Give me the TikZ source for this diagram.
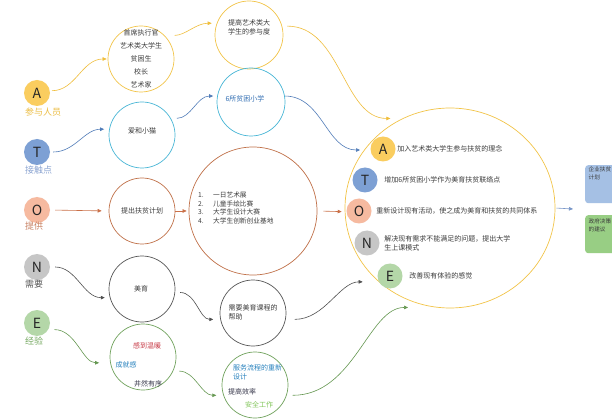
\documentclass[tikz,border=0pt]{standalone}
\usepackage{fontspec}
\setmainfont{Noto Sans CJK SC}
\usetikzlibrary{arrows.meta, positioning, shapes.geometric}

\definecolor{ink}{RGB}{60,60,60}
\definecolor{darkink}{RGB}{55,55,75}
\definecolor{ylwline}{RGB}{242,196,72}
\definecolor{cyanline}{RGB}{72,182,214}
\definecolor{orgline}{RGB}{192,112,72}
\definecolor{grayline}{RGB}{85,85,85}
\definecolor{grnline}{RGB}{112,162,92}
\definecolor{ylwarrow}{RGB}{240,190,60}
\definecolor{bluarrow}{RGB}{82,125,185}
\definecolor{orgarrow}{RGB}{202,112,72}
\definecolor{grayarrow}{RGB}{80,80,80}
\definecolor{grnarrow}{RGB}{102,152,82}
\definecolor{afill}{RGB}{250,205,95}
\definecolor{tfill}{RGB}{125,160,212}
\definecolor{ofill}{RGB}{246,186,160}
\definecolor{nfill}{RGB}{198,198,198}
\definecolor{efill}{RGB}{180,215,168}
\definecolor{alab}{RGB}{236,190,70}
\definecolor{tlab}{RGB}{140,165,210}
\definecolor{olab}{RGB}{200,130,100}
\definecolor{nlab}{RGB}{90,90,90}
\definecolor{elab}{RGB}{120,170,100}
\definecolor{bluetxt}{RGB}{52,112,180}
\definecolor{skytxt}{RGB}{40,130,190}
\definecolor{redtxt}{RGB}{200,60,72}
\definecolor{lgrntxt}{RGB}{130,198,90}
\definecolor{boxblue}{RGB}{165,192,228}
\definecolor{boxgreen}{RGB}{152,206,132}
\definecolor{outarrow}{RGB}{120,150,200}

\begin{document}
\begin{tikzpicture}[x=1pt, y=1pt,
    ring/.style={draw=#1, circle, line width=0.7pt, minimum size=66pt,
                 inner sep=0pt},
    letter/.style={circle, fill=#1, minimum size=26pt, inner sep=0pt,
                   font=\fontsize{14}{14}\selectfont, text=black!85},
    lab/.style={anchor=west, inner sep=0pt, font=\fontsize{9}{9}\selectfont},
    txt/.style={inner sep=0pt, text=ink, font=\fontsize{7}{9}\selectfont},
    flow/.style={draw=#1, line width=0.6pt,
                 -{Triangle[length=4pt, width=3.5pt]}},
    box/.style={rounded corners=3pt, minimum width=45pt, minimum height=38pt,
                anchor=north west, inner sep=0pt}
  ]
  \path[use as bounding box, fill=white] (0,0) rectangle (612,-419);

  \node[letter=afill] (A) at (37,-93) {A};
  \node[lab, text=alab] (Alab) at (25,-112) {参与人员};
  \node[letter=tfill] (T) at (37,-152) {T};
  \node[lab, text=tlab] (Tlab) at (25,-170) {接触点};
  \node[letter=ofill] (O) at (37,-210) {O};
  \node[lab, text=olab] (Olab) at (25,-226) {提供};
  \node[letter=nfill] (N) at (37,-267) {N};
  \node[lab, text=nlab] (Nlab) at (25,-284) {需要};
  \node[letter=efill] (E) at (37,-323) {E};
  \node[lab, text=elab] (Elab) at (25,-341) {经验};

  \node[ring=ylwline] (who) at (141,-59) {};
  \node[txt, align=center, font=\fontsize{7}{13}\selectfont] (whotxt) at (141,-59)
    {首席执行官\\艺术类大学生\\贫困生\\校长\\艺术家};
  \node[ring=ylwline, minimum size=68pt] (raise) at (249,-35) {};
  \node[txt, align=center] (raisetxt) at (249,-27) {提高艺术类大\\学生的参与度};

  \node[ring=cyanline] (love) at (142,-135) {};
  \node[txt] (lovetxt) at (142,-131) {爱和小猫};
  \node[ring=cyanline, minimum size=68pt] (schools) at (251,-102) {};
  \node[txt, text=bluetxt] (schoolstxt) at (245,-99) {6所贫困小学};

  \node[ring=orgline] (plan) at (142,-211) {};
  \node[txt] (plantxt) at (142,-211) {提出扶贫计划};
  \node[ring=orgline, minimum size=128pt] (acts) at (253,-211) {};
  \node[txt, align=left, anchor=west, font=\fontsize{6.7}{8.7}\selectfont]
    (actstxt) at (198,-208)
    {\makebox[15pt][l]{1.}一日艺术展\\\makebox[15pt][l]{2.}儿童手绘比赛\\
     \makebox[15pt][l]{3.}大学生设计大赛\\\makebox[15pt][l]{4.}大学生创新创业基地};

  \node[ring=grayline] (beauty) at (142,-289) {};
  \node[txt] (beautytxt) at (141,-289) {美育};
  \node[ring=grayline] (need) at (253,-313) {};
  \node[txt, align=left] (needtxt) at (253,-312) {需要美育课程的\\帮助};

  \node[ring=grnline] (warm) at (143,-357) {};
  \node[txt, text=redtxt] (warm1) at (147,-346) {感到温暖};
  \node[txt, text=skytxt] (warm2) at (126,-365) {成就感};
  \node[txt, text=darkink] (warm3) at (148,-384) {井然有序};
  \node[ring=grnline] (service) at (255,-385) {};
  \node[txt, text=skytxt, align=left, anchor=west] (serv1) at (233,-372.5)
    {服务流程的重新\\设计};
  \node[txt, text=darkink, anchor=west] (serv2) at (228,-392) {提高效率};
  \node[txt, text=lgrntxt, anchor=west] (serv3) at (245,-405) {安全工作};

  \node[draw=ylwline, ellipse, line width=0.7pt, minimum width=210pt,
        minimum height=200pt, inner sep=0pt] (big) at (450,-208) {};
  \node[letter=afill, minimum size=25pt] (iA) at (383,-149) {A};
  \node[txt, right=1.5pt of iA] (iAtxt) {加入艺术类大学生参与扶贫的理念};
  \node[letter=tfill, minimum size=25pt] (iT) at (365,-180) {T};
  \node[txt, right=6.5pt of iT] (iTtxt) {增加6所贫困小学作为美育扶贫联络点};
  \node[letter=ofill, minimum size=25pt] (iO) at (359,-211) {O};
  \node[txt, right=4.5pt of iO] (iOtxt) {重新设计现有活动，使之成为美育和扶贫的共同体系};
  \node[letter=nfill, minimum size=25pt] (iN) at (367,-243) {N};
  \node[txt, align=left, right=4.5pt of iN] (iNtxt)
    {解决现有需求不能满足的问题，提出大学\\生上课模式};
  \node[letter=efill, minimum size=25pt] (iE) at (390,-276) {E};
  \node[txt, right=6.5pt of iE] (iEtxt) {改善现有体验的感觉};

  \begin{scope}
    \clip (0,0) rectangle (612,-419);
    \node[box, fill=boxblue] (corp) at (585,-165) {};
    \node[txt, align=left, anchor=north west, font=\fontsize{5.6}{8}\selectfont]
      (corptxt) at (588.5,-167) {企业扶贫\\计划};
    \node[box, fill=boxgreen] (gov) at (585,-215) {};
    \node[txt, align=left, anchor=north west, font=\fontsize{5.6}{8}\selectfont]
      (govtxt) at (588.5,-219) {政府决策\\的建议};
  \end{scope}
  \coordinate (toboxes) at (573,-209);

  \draw[flow=ylwarrow, shorten <=2pt, shorten >=1pt]
    (A.10) to[out=0, in=180] (who.west);
  \draw[flow=ylwarrow, shorten <=10pt, shorten >=5pt]
    (who.45) to[out=0, in=180] (raise.160);
  \draw[flow=ylwarrow, shorten <=5pt, shorten >=12pt]
    (raise.15) to[out=0, in=180] (big.118);

  \draw[flow=bluarrow, shorten <=3pt, shorten >=5pt]
    (T.east) to[out=0, in=180] (love.170);
  \draw[flow=bluarrow, shorten <=6pt, shorten >=4pt]
    (love.30) to[out=0, in=180] (schools.170);
  \draw[flow=bluarrow, shorten >=4pt]
    (schools.10) to[out=0, in=180] (big.146);

  \draw[flow=orgarrow, shorten <=5pt, shorten >=7pt] (O.east) -- (plan.west);
  \draw[flow=orgarrow, shorten >=2pt] (plan.east) -- (acts.west);
  \draw[flow=orgarrow, shorten <=6pt, shorten >=3pt] (acts.east) -- (big.182);

  \draw[flow=grayarrow, shorten <=5pt, shorten >=5pt]
    (N.east) to[out=0, in=180] (beauty.195);
  \draw[flow=grayarrow, shorten <=5pt, shorten >=7pt]
    (beauty.354) to[out=0, in=180] (need.191);
  \draw[flow=grayarrow, shorten <=9pt, shorten >=16pt]
    (need.349) to[out=0, in=180] (big.226);

  \draw[flow=grnarrow, shorten <=6pt, shorten >=11pt]
    (E.330) to[out=0, in=180] (warm.190);
  \draw[flow=grnarrow, shorten <=6pt, shorten >=7pt]
    (warm.335) to[out=0, in=180] (service.198);
  \draw[flow=grnarrow, shorten <=6pt, shorten >=28pt]
    (service.342) to[out=0, in=180] (big.262);

  \draw[flow=outarrow, shorten <=1pt] (big.east) -- (toboxes);
\end{tikzpicture}
\end{document}
